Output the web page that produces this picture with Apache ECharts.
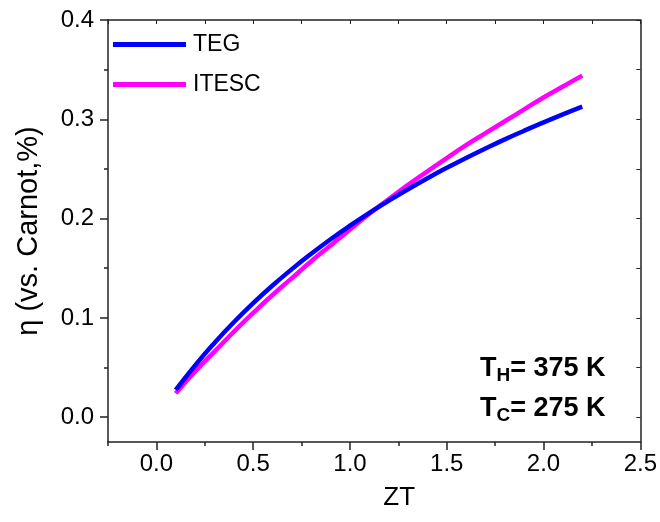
<!DOCTYPE html>
<html><head><meta charset="utf-8">
<script src="https://cdn.jsdelivr.net/npm/echarts@6/dist/echarts.min.js"></script>
<style>html,body{margin:0;padding:0;background:#fff}#c{width:660px;height:522px}</style>
</head><body><div id="c"></div>
<script>
const zt = [0.1,0.2,0.3,0.4,0.5,0.6,0.7,0.8,0.9,1.0,1.1,1.2,1.3,1.4,1.5,1.6,1.7,1.8,1.9,2.0,2.1,2.2];
const teg = [0.0274,0.0522,0.0748,0.0956,0.1148,0.1326,0.1491,0.1646,0.1792,0.1929,0.2058,0.2180,0.2296,0.2406,0.2511,0.2611,0.2706,0.2798,0.2885,0.2969,0.3050,0.3128];
const itesc = [0.024,0.046,0.066,0.086,0.105,0.123,0.140,0.157,0.173,0.189,0.205,0.2195,0.234,0.2475,0.261,0.274,0.286,0.298,0.310,0.322,0.333,0.344];
const seriesNames = ['TEG','ITESC'];
const xMajor = [0.0,0.5,1.0,1.5,2.0,2.5];
const xMinor = [-0.25,0.25,0.75,1.25,1.75,2.25];
const yMajor = [0.0,0.1,0.2,0.3,0.4];
const yMinor = [0.05,0.15,0.25,0.35];
const xRange = [-0.25, 2.5];
const yRange = [-0.025, 0.4];

const font = '"Liberation Sans", Arial, sans-serif';
const chart = echarts.init(document.getElementById('c'));
const pair = (xs, ys) => xs.map((x,i)=>[x, ys[i]]);
const axisLine = {show:true, onZero:false, lineStyle:{color:'#222', width:1.5}};
const noLine = {show:false, onZero:false};
const richStyle = {
  b:{fontFamily:font, fontWeight:'bold', fontSize:27, fill:'#000', lineHeight:30},
  s:{fontFamily:font, fontWeight:'bold', fontSize:19, fill:'#000', lineHeight:30, padding:[14,0,0,0]}
};
const baseX = {type:'value', min:xRange[0], max:xRange[1], splitLine:{show:false}};
const baseY = {type:'value', min:yRange[0], max:yRange[1], splitLine:{show:false}};
chart.setOption({
  animation:false,
  grid:{left:108, right:18, top:20, bottom:80, containLabel:false},
  legend:{
    orient:'vertical', left:113, top:33, padding:0, itemWidth:73, itemHeight:5, itemGap:17,
    icon:'rect',
    textStyle:{fontFamily:font, fontSize:23, color:'#000', padding:[0,0,0,2]},
    data:seriesNames
  },
  xAxis:[
    Object.assign({}, baseX, {
      name:'ZT', nameLocation:'middle', nameGap:43,
      nameTextStyle:{fontFamily:font, fontSize:26, color:'#000', padding:[0,0,0,50]},
      axisLine:axisLine,
      axisTick:{show:true, length:8, customValues:xMajor, lineStyle:{color:'#222', width:1.5}},
      axisLabel:{fontFamily:font, fontSize:24, color:'#000', margin:10, customValues:xMajor,
        formatter:v=>v.toFixed(1)}
    }),
    Object.assign({}, baseX, {
      position:'bottom', axisLine:noLine,
      axisTick:{show:true, length:4, customValues:xMinor, lineStyle:{color:'#222', width:1.5}},
      axisLabel:{show:false}
    }),
    Object.assign({}, baseX, {
      position:'top', axisLine:axisLine,
      axisTick:{show:true, inside:true, length:4, customValues:xMajor.concat(xMinor), lineStyle:{color:'#222'}},
      axisLabel:{show:false}
    })
  ],
  yAxis:[
    Object.assign({}, baseY, {
      name:'η (vs. Carnot,%)', nameLocation:'middle', nameGap:65, nameRotate:90,
      nameTextStyle:{fontFamily:font, fontSize:29, color:'#000'},
      axisLine:axisLine,
      axisTick:{show:true, length:8, customValues:yMajor, lineStyle:{color:'#222', width:1.5}},
      axisLabel:{fontFamily:font, fontSize:24, color:'#000', margin:14, customValues:yMajor,
        formatter:v=>v.toFixed(1)}
    }),
    Object.assign({}, baseY, {
      position:'left', axisLine:noLine,
      axisTick:{show:true, length:4, customValues:yMinor, lineStyle:{color:'#222', width:1.5}},
      axisLabel:{show:false}
    }),
    Object.assign({}, baseY, {
      position:'right', axisLine:axisLine,
      axisTick:{show:true, inside:true, length:4, customValues:yMajor.concat(yMinor), lineStyle:{color:'#222'}},
      axisLabel:{show:false}
    })
  ],
  series:[
    {name:seriesNames[0], type:'line', data:pair(zt,teg), smooth:true, showSymbol:false, symbol:'none',
     itemStyle:{color:'#0000FF'}, lineStyle:{color:'#0000FF', width:4.5}, z:3},
    {name:seriesNames[1], type:'line', data:pair(zt,itesc), smooth:true, showSymbol:false, symbol:'none',
     itemStyle:{color:'#FF00FF'}, lineStyle:{color:'#FF00FF', width:4.5}, z:2}
  ],
  graphic:[
    {type:'text', left:480, top:352, style:{text:'{b|T}{s|H}{b|= 375 K}', rich:richStyle}},
    {type:'text', left:480, top:392, style:{text:'{b|T}{s|C}{b|= 275 K}', rich:richStyle}}
  ]
});
</script></body></html>
